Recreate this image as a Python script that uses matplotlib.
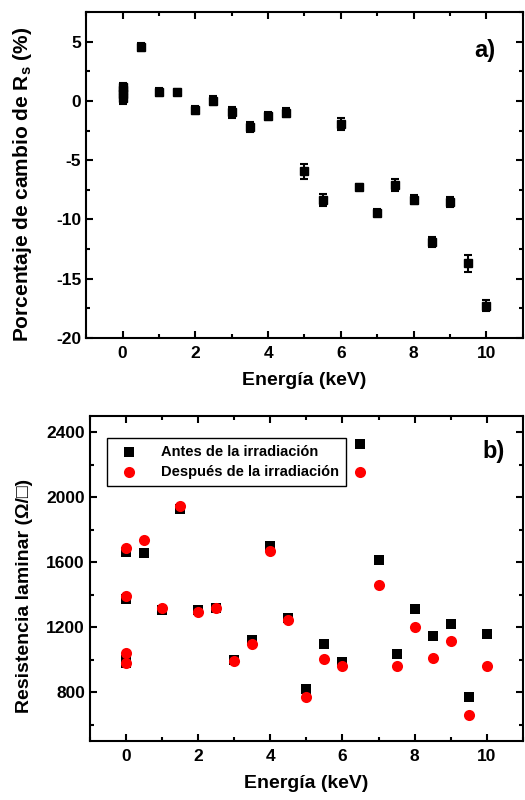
import numpy as np
import matplotlib
matplotlib.use("Agg")
import matplotlib.pyplot as plt
from matplotlib.ticker import MultipleLocator

plt.rcParams['font.family'] = ['Liberation Sans', 'DejaVu Sans']
plt.rcParams['font.weight'] = 'bold'
plt.rcParams['axes.unicode_minus'] = False
plt.rcParams['mathtext.fontset'] = 'custom'
plt.rcParams['mathtext.rm'] = 'Liberation Sans:bold'
plt.rcParams['mathtext.bf'] = 'Liberation Sans:bold'

# panel a) percentage change of Rs
energy_a = [0, 0, 0, 0, 0.5, 1, 1.5, 2, 2.5, 3, 3.5, 4, 4.5,
            5, 5.5, 6, 6.5, 7, 7.5, 8, 8.5, 9, 9.5, 10]
change_a = [1.2, 0.9, 0.6, 0.25, 4.55, 0.76, 0.76, -0.76, 0.03, -0.96, -2.2, -1.27, -0.98,
            -5.93, -8.37, -1.95, -7.25, -9.44, -7.1, -8.32, -11.93, -8.54, -13.7, -17.27]
err_a = [0.35, 0.35, 0.35, 0.5, 0.3, 0.35, 0.25, 0.35, 0.4, 0.45, 0.45, 0.3, 0.4,
         0.65, 0.5, 0.5, 0.24, 0.28, 0.5, 0.4, 0.42, 0.45, 0.7, 0.45]

# panel b) sheet resistance before / after
energy_b = [0, 0, 0, 0, 0.5, 1, 1.5, 2, 2.5, 3, 3.5, 4, 4.5,
            5, 5.5, 6, 6.5, 7, 7.5, 8, 8.5, 9, 9.5, 10]
antes = [1663, 1375, 1000, 980, 1660, 1309, 1928, 1309, 1319, 1001, 1122, 1700, 1258,
         818, 1098, 985, 2326, 1616, 1036, 1311, 1149, 1220, 769, 1159]
despues = [1688, 1395, 1040, 981, 1735, 1319, 1945, 1292, 1319, 991, 1098, 1672, 1245,
           769, 1006, 962, 2157, 1463, 962, 1200, 1012, 1118, 663, 962]

fig = plt.figure(figsize=(5.25, 8), dpi=100)
ax1 = fig.add_axes([0.164, 0.5775, 0.832, 0.4075])
ax2 = fig.add_axes([0.171, 0.07375, 0.825, 0.40625])


def style_axis(ax):
    for s in ax.spines.values():
        s.set_linewidth(1.5)
    ax.tick_params(which='both', direction='in', top=True, right=True, width=1.5,
                   labelsize=12.5)
    ax.tick_params(axis='x', which='both', pad=6)
    ax.tick_params(which='major', length=5)
    ax.tick_params(which='minor', length=3)
    ax.xaxis.set_major_locator(MultipleLocator(2))
    ax.xaxis.set_minor_locator(MultipleLocator(1))
    ax.set_xlim(-1, 11)
    ax.set_xlabel('Energía (keV)', fontsize=14, fontweight='bold', labelpad=8)
    for lab in ax.get_xticklabels() + ax.get_yticklabels():
        lab.set_fontweight('bold')


ax1.errorbar(energy_a, change_a, yerr=err_a, fmt='s', color='black', ms=6,
             elinewidth=1.5, capsize=3, capthick=1.5)
ax1.set_ylim(-20, 7.5)
ax1.yaxis.set_major_locator(MultipleLocator(5))
ax1.yaxis.set_minor_locator(MultipleLocator(2.5))
style_axis(ax1)
ax1.set_ylabel(r'Porcentaje de cambio de R$_\mathbf{s}$ (%)', fontsize=15,
               fontweight='bold')
ax1.yaxis.set_label_coords(-0.119, 0.472)
ax1.text(0.936, 0.883, 'a)', transform=ax1.transAxes, fontsize=17, fontweight='bold',
         ha='right', va='center')

ax2.scatter(energy_b, antes, marker='s', s=52, color='black', zorder=2,
            label='Antes de la irradiación', linewidths=0)
ax2.scatter(energy_b, despues, marker='o', s=64, color='#ff0000', zorder=3,
            label='Después de la irradiación', linewidths=0)
ax2.set_ylim(500, 2500)
ax2.yaxis.set_major_locator(MultipleLocator(400))
ax2.yaxis.set_minor_locator(MultipleLocator(200))
style_axis(ax2)
ax2.set_ylabel('Resistencia laminar (Ω/□)', fontsize=14, fontweight='bold')
ax2.yaxis.set_label_coords(-0.132, 0.445)
ax2.text(0.958, 0.89, 'b)', transform=ax2.transAxes, fontsize=17, fontweight='bold',
         ha='right', va='center')
leg = ax2.legend(loc='upper left', bbox_to_anchor=(0.023, 0.955), fancybox=False,
                 edgecolor='black', fontsize=10.5, handletextpad=1.2,
                 borderpad=0.5, labelspacing=0.4, framealpha=1)
leg.get_frame().set_linewidth(1.0)
for t in leg.get_texts():
    t.set_fontweight('bold')

fig.savefig('out.png', dpi=100)
